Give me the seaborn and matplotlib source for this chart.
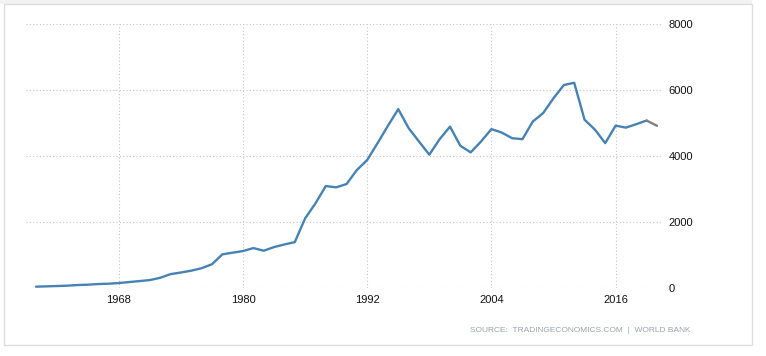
import matplotlib
matplotlib.use("Agg")
import matplotlib.pyplot as plt
import pandas as pd
import seaborn as sns
from matplotlib.patches import Rectangle

years = list(range(1960, 2021))
values = [
    40, 50, 60, 70, 90, 100, 120, 130, 150, 180,            # 1960-1969
    210, 240, 310, 420, 470, 525, 600, 720, 1020, 1070,     # 1970-1979
    1120, 1210, 1130, 1240, 1320, 1390, 2110, 2565, 3090, 3050,  # 1980-1989
    3150, 3575, 3880, 4390, 4915, 5420, 4845, 4440, 4040, 4510,  # 1990-1999
    4890, 4310, 4110, 4440, 4815, 4710, 4540, 4510, 5045, 5300,  # 2000-2009
    5750, 6150, 6220, 5100, 4800, 4390, 4920, 4860, 4965, 5075,  # 2010-2019
    4915,                                                    # 2020
]
xticks = [1968, 1980, 1992, 2004, 2016]
yticks = [0, 2000, 4000, 6000, 8000]
last_actual = 2019
source_text = "SOURCE:  TRADINGECONOMICS.COM  |  WORLD BANK"

df = pd.DataFrame({"year": years, "value": values})
main = df[df["year"] <= last_actual]
tail = df[df["year"] >= last_actual]

sns.set_style("white")
plt.rcParams["font.family"] = ["Liberation Sans", "DejaVu Sans"]

W, H = 766, 356
fig = plt.figure(figsize=(W / 100, H / 100), dpi=100)
fig.patch.set_facecolor("white")

# panel frame and the grey strip at the top
fig.add_artist(Rectangle((0, 1 - 4 / H), 752 / W, 4 / H, transform=fig.transFigure,
                         facecolor="#f2f2f2", edgecolor="none", zorder=0))
fig.add_artist(Rectangle((3.5 / W, 1 - 345 / H), 748.5 / W, 341 / H, transform=fig.transFigure,
                         facecolor="white", edgecolor="#dddddd", lw=1, zorder=0))

ax = fig.add_axes([26 / W, 1 - 288 / H, (663 - 26) / W, (288 - 24) / H])
ax.set_facecolor("none")

sns.lineplot(data=main, x="year", y="value", ax=ax, color="#4682b4", lw=1.7,
             solid_capstyle="round", solid_joinstyle="round")
sns.lineplot(data=tail, x="year", y="value", ax=ax, color="#808080", lw=1.7,
             solid_capstyle="round", solid_joinstyle="round")

ax.set_xlim(1959.03, 2020.58)
ax.set_ylim(0, 8000)
ax.set_xticks(xticks)
ax.set_yticks(yticks)
ax.set_yticklabels([str(v) for v in yticks])
ax.yaxis.tick_right()
ax.set_xlabel("")
ax.set_ylabel("")
for s in ax.spines.values():
    s.set_visible(False)
ax.grid(True, linestyle=(0, (1, 2)), color="#c4c4c4", lw=0.8)
ax.tick_params(axis="x", length=3, color="#cccccc", pad=2, labelsize=8, labelcolor="#111111")
ax.tick_params(axis="y", length=0, pad=4, labelsize=8, labelcolor="#111111")

fig.text(690 / W, 1 - 330 / H, source_text, ha="right", va="center",
         fontsize=6, color="#9aa3ab")

fig.savefig("out.png", dpi=100)
